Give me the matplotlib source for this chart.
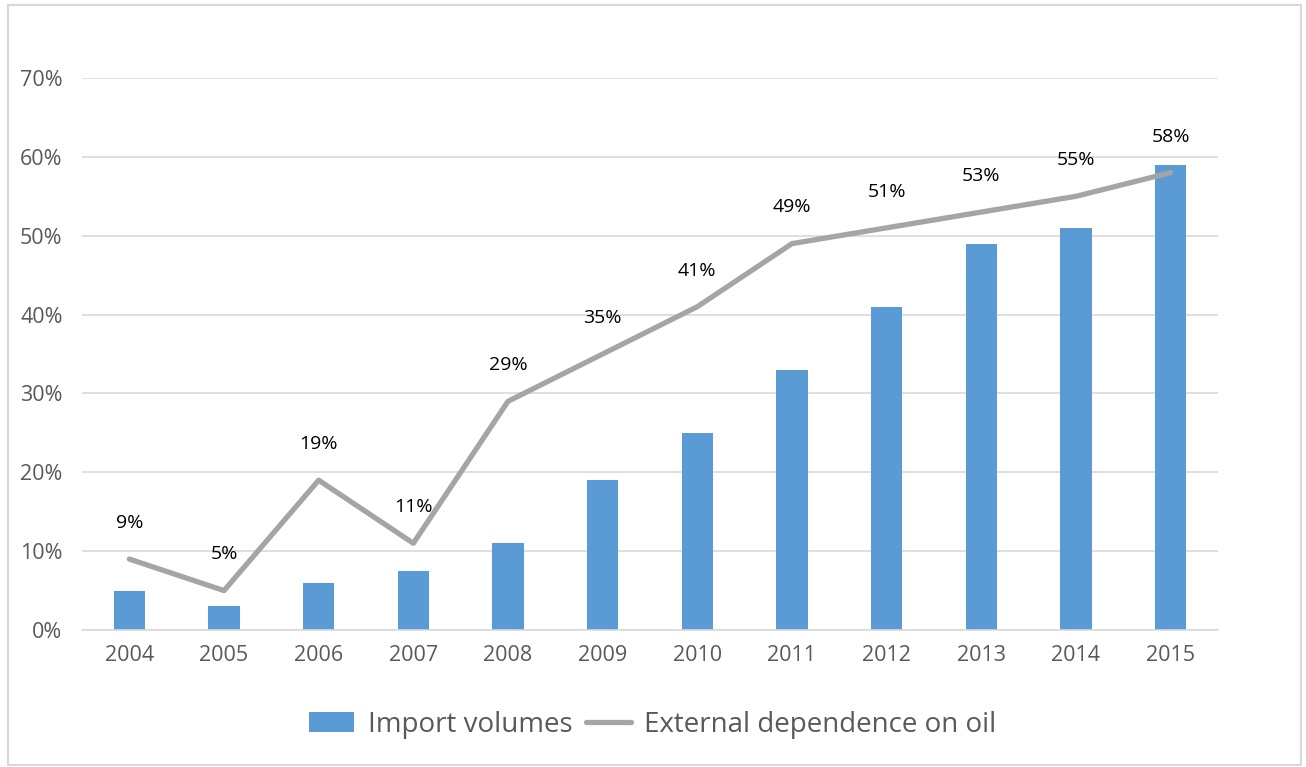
import matplotlib.pyplot as plt
from matplotlib.patches import Rectangle
from matplotlib.ticker import PercentFormatter

years = ['2004', '2005', '2006', '2007', '2008', '2009',
         '2010', '2011', '2012', '2013', '2014', '2015']
import_volumes = [5, 3, 6, 7.5, 11, 19, 25, 33, 41, 49, 51, 59]
external_dependence = [9, 5, 19, 11, 29, 35, 41, 49, 51, 53, 55, 58]

plt.rcParams['font.family'] = ['Open Sans', 'DejaVu Sans']

fig = plt.figure(figsize=(13.06, 7.67), dpi=100)
ax = fig.add_axes([0.0628, 0.1786, 0.8698, 0.7197])

x = range(len(years))
bars = ax.bar(x, import_volumes, width=0.33, color='#5B9BD5', zorder=2)
line, = ax.plot(x, external_dependence, color='#A5A5A5', lw=3.8,
                solid_capstyle='round', zorder=3)

for xi, v in zip(x, external_dependence):
    ax.annotate(f'{v}%', (xi, v), xytext=(0, 26), textcoords='offset points',
                ha='center', va='center', fontsize=14, color='black')

ax.set_xlim(-0.5, len(years) - 0.5)
ax.set_ylim(0, 70)
ax.set_yticks(range(0, 71, 10))
ax.yaxis.set_major_formatter(PercentFormatter(decimals=0))
ax.set_xticks(list(x))
ax.set_xticklabels(years)
ax.tick_params(axis='both', length=0, labelsize=15.5, colors='#595959')
ax.tick_params(axis='x', pad=11)
ax.tick_params(axis='y', pad=14)
ax.grid(axis='y', color='#D9D9D9', lw=1.2, zorder=0)
ax.set_axisbelow(True)
for s in ['top', 'right', 'left']:
    ax.spines[s].set_visible(False)
ax.spines['bottom'].set_color('#D9D9D9')
ax.spines['bottom'].set_linewidth(1.2)

fig.legend([bars, line], ['Import volumes', 'External dependence on oil'],
           loc='center', bbox_to_anchor=(0.5, 0.055), ncol=2, frameon=False,
           fontsize=20, labelcolor='#595959', handlelength=1.6, handletextpad=0.5,
           columnspacing=0.5)

# thin outer frame
fig.patches.append(Rectangle((0.006, 0.003), 0.99, 0.99, transform=fig.transFigure,
                             fill=False, edgecolor='#D9D9D9', lw=1.5))

fig.savefig('out.png', dpi=100)
